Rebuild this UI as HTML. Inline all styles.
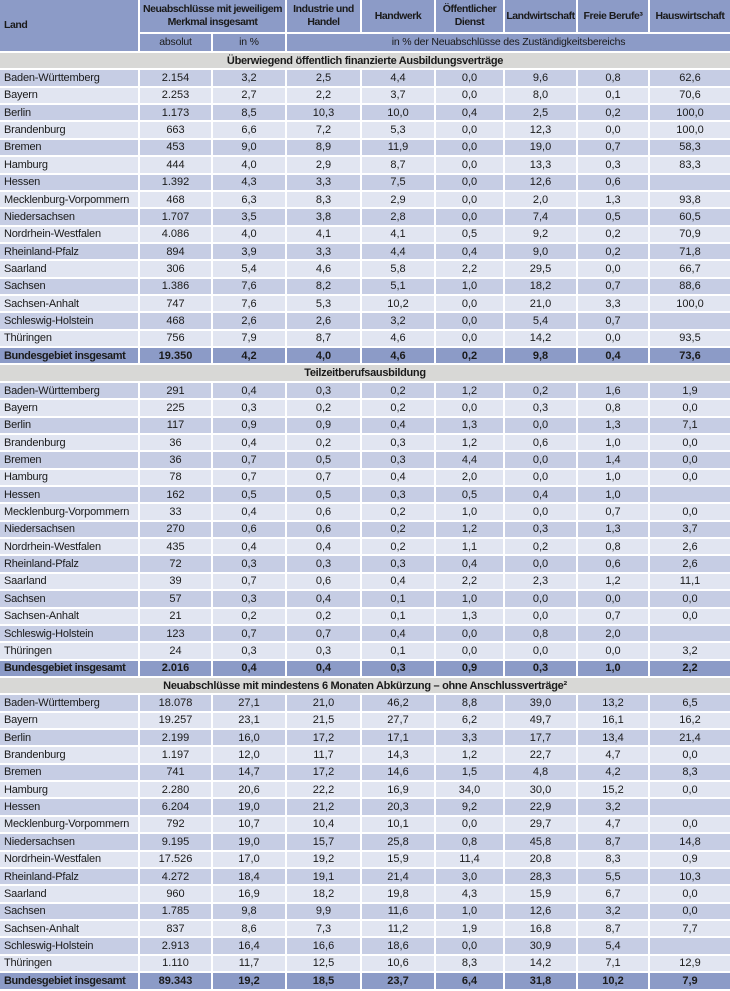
<!DOCTYPE html>
<html><head><meta charset="utf-8"><style>
html,body{margin:0;padding:0;background:#fff;}
table{border-collapse:separate;border-spacing:0;table-layout:fixed;width:730px;height:991px;font-family:"Liberation Sans Narrow","Liberation Sans",sans-serif;font-size:11px;color:#1a1a1a;}
td,th{border-right:2px solid #fff;border-bottom:2px solid #fff;padding:0;text-align:center;overflow:hidden;white-space:nowrap;box-sizing:border-box;}
td:first-child,th.l{text-align:left;padding-left:4px;}
td:first-child{letter-spacing:-0.2px;}
td:last-child,th:last-child{border-right:none;}
thead th{background:#8c9bc7;font-weight:bold;line-height:13px;font-size:10.5px;letter-spacing:-0.45px;white-space:normal;}
thead tr.h1{height:34px;} thead tr.h2{height:19px;}
thead tr.h2 th{font-weight:normal;letter-spacing:-0.2px;}
tbody tr{height:17.37px;}
tr.s td{background:#d8d8d6;font-weight:bold;text-align:center;padding:0;letter-spacing:-0.3px;}
tr.o td{background:#c6cde4;}
tr.e td{background:#e1e5f1;}
tr.t td{background:#8c9bc7;font-weight:bold;}
tr.t td:first-child{letter-spacing:-0.4px;}
</style></head><body>
<table>
<colgroup><col style="width:140px"><col style="width:73px"><col style="width:74px"><col style="width:75px"><col style="width:74px"><col style="width:69px"><col style="width:73px"><col style="width:72px"><col style="width:80px"></colgroup>
<thead>
<tr class="h1"><th class="l" rowspan="2">Land</th><th colspan="2">Neuabschlüsse mit jeweiligem<br>Merkmal insgesamt</th><th>Industrie und<br>Handel</th><th>Handwerk</th><th>Öffentlicher<br>Dienst</th><th>Landwirtschaft</th><th>Freie Berufe³</th><th>Hauswirtschaft</th></tr>
<tr class="h2"><th>absolut</th><th>in %</th><th colspan="6">in % der Neuabschlüsse des Zuständigkeitsbereichs</th></tr>
</thead>
<tbody>
<tr class="s"><td colspan="9">Überwiegend öffentlich finanzierte Ausbildungsverträge</td></tr>
<tr class="o"><td>Baden-Württemberg</td><td>2.154</td><td>3,2</td><td>2,5</td><td>4,4</td><td>0,0</td><td>9,6</td><td>0,8</td><td>62,6</td></tr>
<tr class="e"><td>Bayern</td><td>2.253</td><td>2,7</td><td>2,2</td><td>3,7</td><td>0,0</td><td>8,0</td><td>0,1</td><td>70,6</td></tr>
<tr class="o"><td>Berlin</td><td>1.173</td><td>8,5</td><td>10,3</td><td>10,0</td><td>0,4</td><td>2,5</td><td>0,2</td><td>100,0</td></tr>
<tr class="e"><td>Brandenburg</td><td>663</td><td>6,6</td><td>7,2</td><td>5,3</td><td>0,0</td><td>12,3</td><td>0,0</td><td>100,0</td></tr>
<tr class="o"><td>Bremen</td><td>453</td><td>9,0</td><td>8,9</td><td>11,9</td><td>0,0</td><td>19,0</td><td>0,7</td><td>58,3</td></tr>
<tr class="e"><td>Hamburg</td><td>444</td><td>4,0</td><td>2,9</td><td>8,7</td><td>0,0</td><td>13,3</td><td>0,3</td><td>83,3</td></tr>
<tr class="o"><td>Hessen</td><td>1.392</td><td>4,3</td><td>3,3</td><td>7,5</td><td>0,0</td><td>12,6</td><td>0,6</td><td></td></tr>
<tr class="e"><td>Mecklenburg-Vorpommern</td><td>468</td><td>6,3</td><td>8,3</td><td>2,9</td><td>0,0</td><td>2,0</td><td>1,3</td><td>93,8</td></tr>
<tr class="o"><td>Niedersachsen</td><td>1.707</td><td>3,5</td><td>3,8</td><td>2,8</td><td>0,0</td><td>7,4</td><td>0,5</td><td>60,5</td></tr>
<tr class="e"><td>Nordrhein-Westfalen</td><td>4.086</td><td>4,0</td><td>4,1</td><td>4,1</td><td>0,5</td><td>9,2</td><td>0,2</td><td>70,9</td></tr>
<tr class="o"><td>Rheinland-Pfalz</td><td>894</td><td>3,9</td><td>3,3</td><td>4,4</td><td>0,4</td><td>9,0</td><td>0,2</td><td>71,8</td></tr>
<tr class="e"><td>Saarland</td><td>306</td><td>5,4</td><td>4,6</td><td>5,8</td><td>2,2</td><td>29,5</td><td>0,0</td><td>66,7</td></tr>
<tr class="o"><td>Sachsen</td><td>1.386</td><td>7,6</td><td>8,2</td><td>5,1</td><td>1,0</td><td>18,2</td><td>0,7</td><td>88,6</td></tr>
<tr class="e"><td>Sachsen-Anhalt</td><td>747</td><td>7,6</td><td>5,3</td><td>10,2</td><td>0,0</td><td>21,0</td><td>3,3</td><td>100,0</td></tr>
<tr class="o"><td>Schleswig-Holstein</td><td>468</td><td>2,6</td><td>2,6</td><td>3,2</td><td>0,0</td><td>5,4</td><td>0,7</td><td></td></tr>
<tr class="e"><td>Thüringen</td><td>756</td><td>7,9</td><td>8,7</td><td>4,6</td><td>0,0</td><td>14,2</td><td>0,0</td><td>93,5</td></tr>
<tr class="t"><td>Bundesgebiet insgesamt</td><td>19.350</td><td>4,2</td><td>4,0</td><td>4,6</td><td>0,2</td><td>9,8</td><td>0,4</td><td>73,6</td></tr>
<tr class="s"><td colspan="9">Teilzeitberufsausbildung</td></tr>
<tr class="o"><td>Baden-Württemberg</td><td>291</td><td>0,4</td><td>0,3</td><td>0,2</td><td>1,2</td><td>0,2</td><td>1,6</td><td>1,9</td></tr>
<tr class="e"><td>Bayern</td><td>225</td><td>0,3</td><td>0,2</td><td>0,2</td><td>0,0</td><td>0,3</td><td>0,8</td><td>0,0</td></tr>
<tr class="o"><td>Berlin</td><td>117</td><td>0,9</td><td>0,9</td><td>0,4</td><td>1,3</td><td>0,0</td><td>1,3</td><td>7,1</td></tr>
<tr class="e"><td>Brandenburg</td><td>36</td><td>0,4</td><td>0,2</td><td>0,3</td><td>1,2</td><td>0,6</td><td>1,0</td><td>0,0</td></tr>
<tr class="o"><td>Bremen</td><td>36</td><td>0,7</td><td>0,5</td><td>0,3</td><td>4,4</td><td>0,0</td><td>1,4</td><td>0,0</td></tr>
<tr class="e"><td>Hamburg</td><td>78</td><td>0,7</td><td>0,7</td><td>0,4</td><td>2,0</td><td>0,0</td><td>1,0</td><td>0,0</td></tr>
<tr class="o"><td>Hessen</td><td>162</td><td>0,5</td><td>0,5</td><td>0,3</td><td>0,5</td><td>0,4</td><td>1,0</td><td></td></tr>
<tr class="e"><td>Mecklenburg-Vorpommern</td><td>33</td><td>0,4</td><td>0,6</td><td>0,2</td><td>1,0</td><td>0,0</td><td>0,7</td><td>0,0</td></tr>
<tr class="o"><td>Niedersachsen</td><td>270</td><td>0,6</td><td>0,6</td><td>0,2</td><td>1,2</td><td>0,3</td><td>1,3</td><td>3,7</td></tr>
<tr class="e"><td>Nordrhein-Westfalen</td><td>435</td><td>0,4</td><td>0,4</td><td>0,2</td><td>1,1</td><td>0,2</td><td>0,8</td><td>2,6</td></tr>
<tr class="o"><td>Rheinland-Pfalz</td><td>72</td><td>0,3</td><td>0,3</td><td>0,3</td><td>0,4</td><td>0,0</td><td>0,6</td><td>2,6</td></tr>
<tr class="e"><td>Saarland</td><td>39</td><td>0,7</td><td>0,6</td><td>0,4</td><td>2,2</td><td>2,3</td><td>1,2</td><td>11,1</td></tr>
<tr class="o"><td>Sachsen</td><td>57</td><td>0,3</td><td>0,4</td><td>0,1</td><td>1,0</td><td>0,0</td><td>0,0</td><td>0,0</td></tr>
<tr class="e"><td>Sachsen-Anhalt</td><td>21</td><td>0,2</td><td>0,2</td><td>0,1</td><td>1,3</td><td>0,0</td><td>0,7</td><td>0,0</td></tr>
<tr class="o"><td>Schleswig-Holstein</td><td>123</td><td>0,7</td><td>0,7</td><td>0,4</td><td>0,0</td><td>0,8</td><td>2,0</td><td></td></tr>
<tr class="e"><td>Thüringen</td><td>24</td><td>0,3</td><td>0,3</td><td>0,1</td><td>0,0</td><td>0,0</td><td>0,0</td><td>3,2</td></tr>
<tr class="t"><td>Bundesgebiet insgesamt</td><td>2.016</td><td>0,4</td><td>0,4</td><td>0,3</td><td>0,9</td><td>0,3</td><td>1,0</td><td>2,2</td></tr>
<tr class="s"><td colspan="9">Neuabschlüsse mit mindestens 6 Monaten Abkürzung – ohne Anschlussverträge²</td></tr>
<tr class="o"><td>Baden-Württemberg</td><td>18.078</td><td>27,1</td><td>21,0</td><td>46,2</td><td>8,8</td><td>39,0</td><td>13,2</td><td>6,5</td></tr>
<tr class="e"><td>Bayern</td><td>19.257</td><td>23,1</td><td>21,5</td><td>27,7</td><td>6,2</td><td>49,7</td><td>16,1</td><td>16,2</td></tr>
<tr class="o"><td>Berlin</td><td>2.199</td><td>16,0</td><td>17,2</td><td>17,1</td><td>3,3</td><td>17,7</td><td>13,4</td><td>21,4</td></tr>
<tr class="e"><td>Brandenburg</td><td>1.197</td><td>12,0</td><td>11,7</td><td>14,3</td><td>1,2</td><td>22,7</td><td>4,7</td><td>0,0</td></tr>
<tr class="o"><td>Bremen</td><td>741</td><td>14,7</td><td>17,2</td><td>14,6</td><td>1,5</td><td>4,8</td><td>4,2</td><td>8,3</td></tr>
<tr class="e"><td>Hamburg</td><td>2.280</td><td>20,6</td><td>22,2</td><td>16,9</td><td>34,0</td><td>30,0</td><td>15,2</td><td>0,0</td></tr>
<tr class="o"><td>Hessen</td><td>6.204</td><td>19,0</td><td>21,2</td><td>20,3</td><td>9,2</td><td>22,9</td><td>3,2</td><td></td></tr>
<tr class="e"><td>Mecklenburg-Vorpommern</td><td>792</td><td>10,7</td><td>10,4</td><td>10,1</td><td>0,0</td><td>29,7</td><td>4,7</td><td>0,0</td></tr>
<tr class="o"><td>Niedersachsen</td><td>9.195</td><td>19,0</td><td>15,7</td><td>25,8</td><td>0,8</td><td>45,8</td><td>8,7</td><td>14,8</td></tr>
<tr class="e"><td>Nordrhein-Westfalen</td><td>17.526</td><td>17,0</td><td>19,2</td><td>15,9</td><td>11,4</td><td>20,8</td><td>8,3</td><td>0,9</td></tr>
<tr class="o"><td>Rheinland-Pfalz</td><td>4.272</td><td>18,4</td><td>19,1</td><td>21,4</td><td>3,0</td><td>28,3</td><td>5,5</td><td>10,3</td></tr>
<tr class="e"><td>Saarland</td><td>960</td><td>16,9</td><td>18,2</td><td>19,8</td><td>4,3</td><td>15,9</td><td>6,7</td><td>0,0</td></tr>
<tr class="o"><td>Sachsen</td><td>1.785</td><td>9,8</td><td>9,9</td><td>11,6</td><td>1,0</td><td>12,6</td><td>3,2</td><td>0,0</td></tr>
<tr class="e"><td>Sachsen-Anhalt</td><td>837</td><td>8,6</td><td>7,3</td><td>11,2</td><td>1,9</td><td>16,8</td><td>8,7</td><td>7,7</td></tr>
<tr class="o"><td>Schleswig-Holstein</td><td>2.913</td><td>16,4</td><td>16,6</td><td>18,6</td><td>0,0</td><td>30,9</td><td>5,4</td><td></td></tr>
<tr class="e"><td>Thüringen</td><td>1.110</td><td>11,7</td><td>12,5</td><td>10,6</td><td>8,3</td><td>14,2</td><td>7,1</td><td>12,9</td></tr>
<tr class="t"><td>Bundesgebiet insgesamt</td><td>89.343</td><td>19,2</td><td>18,5</td><td>23,7</td><td>6,4</td><td>31,8</td><td>10,2</td><td>7,9</td></tr>
</tbody>
</table>
</body></html>
